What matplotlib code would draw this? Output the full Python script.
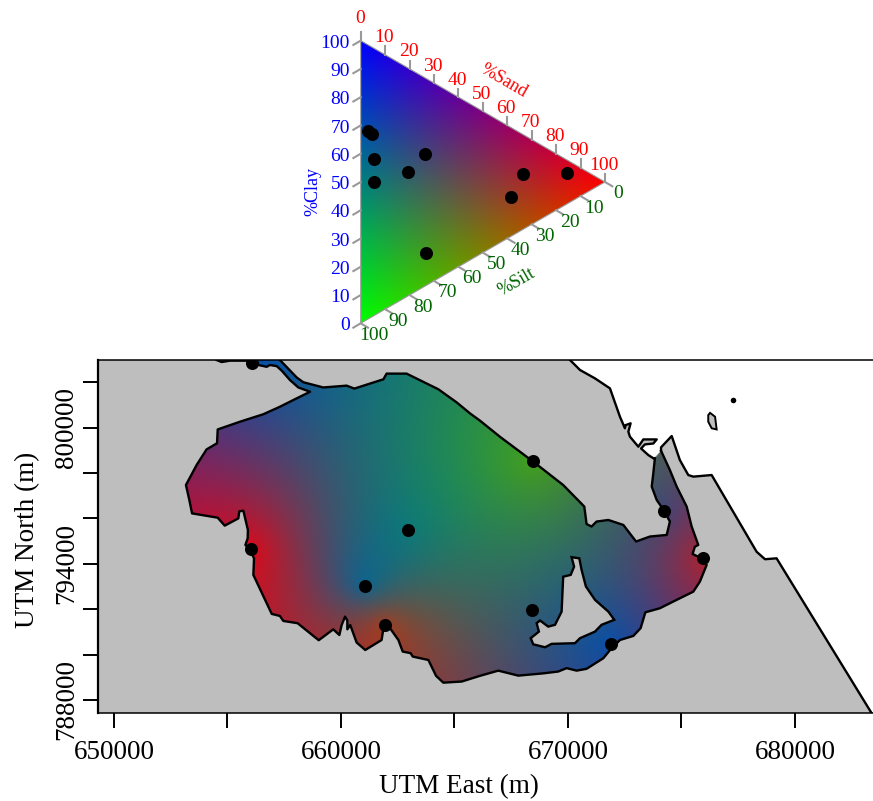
# Soil texture ternary key + interpolated texture colours over the lake
import numpy as np
import matplotlib
matplotlib.use('Agg')
import matplotlib.pyplot as plt
from matplotlib.patches import Polygon

plt.rcParams['font.family'] = ['Liberation Serif', 'DejaVu Serif']

# Samples (UTM km, % fractions)
sample_east = [656.09, 656.04, 662.94, 661.04, 661.92, 668.46, 674.24, 675.96, 668.41, 671.90]
sample_north = [802.83, 794.64, 795.48, 793.04, 791.30, 798.51, 796.33, 794.24, 791.98, 790.47]
sand = [3.1, 84.6, 5.6, 5.6, 61.7, 26.8, 26.3, 66.3, 19.2, 4.6]
silt = [30.4, 4.5, 47.1, 39.2, 24.6, 61.8, 27.0, 13.9, 36.7, 30.8]
clay = [66.5, 10.9, 47.3, 55.2, 13.7, 11.4, 46.7, 19.8, 44.1, 64.6]

# Lake shore, clockwise from the river at the top edge
lake_east = [654.52, 654.74, 655.11, 655.84, 656.36, 656.73, 656.87, 657.17, 657.39, 657.75,
             658.12, 658.34, 658.64, 658.05, 657.31, 656.58, 655.55, 654.57, 654.54, 654.08,
             653.64, 653.17, 653.32, 653.44, 654.57, 654.88, 655.48, 655.52, 655.70, 655.90,
             655.89, 655.79, 655.99, 656.17, 656.14, 656.95, 657.31, 657.46, 658.09, 659.02,
             659.66, 659.93, 660.03, 660.18, 660.28, 660.28, 660.41, 660.54, 660.69, 661.07,
             661.79, 661.86, 662.16, 662.53, 662.72, 663.07, 663.16, 663.85, 664.19, 664.51,
             665.32, 666.12, 666.93, 667.81, 668.91, 669.57, 669.94, 670.38, 670.82, 671.56,
             671.88, 672.29, 672.88, 673.20, 673.41, 674.05, 674.79, 675.52, 675.81, 676.11,
             675.74, 675.49, 675.59, 675.74, 675.45, 675.23, 674.79, 674.49, 674.10,
             673.83, 673.76, 673.69, 673.91, 674.24, 674.49, 674.35, 673.61, 673.00, 672.44,
             671.78, 671.26, 671.04, 670.82, 670.72, 669.79, 668.47, 667.00, 666.12, 665.68,
             665.10, 664.29, 662.89, 662.01, 661.87, 660.59, 660.25, 659.22, 658.34, 658.05,
             657.31]
lake_north = [802.98, 802.89, 802.95, 802.95, 802.76, 802.68, 802.76, 802.71, 802.51, 802.10,
              801.77, 801.69, 801.58, 801.29, 800.92, 800.59, 800.26, 799.92, 799.31, 799.04,
              798.35, 797.47, 796.81, 796.22, 796.03, 795.68, 796.00, 796.31, 796.34, 795.49,
              795.12, 794.83, 794.61, 794.24, 793.51, 791.79, 791.70, 791.48, 791.38, 790.63,
              791.11, 790.86, 791.30, 791.67, 791.50, 791.11, 791.30, 790.94, 790.53, 790.20,
              790.64, 791.08, 791.16, 790.64, 790.13, 790.06, 789.91, 789.76, 789.06, 788.76,
              788.81, 789.06, 789.29, 789.07, 789.17, 789.25, 789.40, 789.29, 789.37, 789.84,
              790.23, 790.64, 790.82, 791.16, 791.86, 792.04, 792.41, 792.77, 793.21, 793.95,
              794.31, 794.43, 794.75, 794.83, 795.64, 796.52, 797.40, 798.13, 798.98,
              798.65, 797.99, 797.40, 796.81, 796.33, 795.86, 795.27, 795.20, 794.98, 795.71,
              795.93, 795.86, 795.64, 795.75, 796.52, 797.47, 798.50, 799.60, 800.31, 800.63,
              801.11, 801.69, 802.38, 802.38, 802.13, 801.72, 801.85, 801.77, 802.00, 802.21,
              802.98]
mouth_index = 88  # lake opens to the sea here, no shore line across it

# Island inside the lake
island_east = [670.16, 670.50, 670.60, 670.79, 671.19, 671.78, 672.04, 671.48, 671.19, 670.53,
               670.31, 669.28, 668.99, 668.47, 668.36, 668.72, 668.62, 668.77, 669.13, 669.43,
               669.72, 669.79, 670.12, 670.27]
island_north = [794.29, 794.24, 793.73, 793.00, 792.41, 791.89, 791.53, 791.31, 791.01, 790.72,
                790.50, 790.47, 790.32, 790.45, 790.72, 791.01, 791.38, 791.50, 791.23, 791.31,
                791.89, 793.43, 793.51, 793.87]

# Sea coast north of the mouth, then the spit
coast_n_east = [670.09, 670.53, 671.19, 671.85, 672.29, 672.51, 672.54, 672.76, 672.66, 672.73,
                673.10, 673.32, 673.91, 673.76, 673.39, 673.22, 673.54, 673.76]
coast_n_north = [802.98, 802.54, 802.17, 801.73, 800.48, 799.97, 800.11, 800.19, 799.82, 799.60,
                 799.16, 799.48, 799.48, 799.30, 799.26, 799.08, 798.79, 798.65]
coast_s_east = [674.10, 674.10, 674.57, 674.93, 675.30, 675.52, 676.33, 678.31, 678.68, 679.19, 683.38]
coast_s_north = [798.98, 799.13, 799.63, 798.57, 797.91, 797.84, 797.91, 794.53, 794.20, 794.24, 787.41]

# Offshore islet
islet_east = [676.18, 676.26, 676.48, 676.55, 676.33, 676.18]
islet_north = [800.55, 800.65, 800.48, 799.92, 799.97, 800.26]
rock_east = [677.28]
rock_north = [801.22]

east_ticks = [650, 655, 660, 665, 670, 675, 680]
east_labelled = [650, 660, 670, 680]
north_ticks = [788, 790, 792, 794, 796, 798, 800, 802]
north_labelled = [788, 794, 800]
tern_ticks = [0, 10, 20, 30, 40, 50, 60, 70, 80, 90, 100]

W, H = 873, 801
fig = plt.figure(figsize=(W / 100, H / 100), dpi=100)

sample_east = np.array(sample_east)
sample_north = np.array(sample_north)
sand = np.array(sand)
silt = np.array(silt)
clay = np.array(clay)
rgb = np.c_[sand, silt, clay] / 100.0

# ---- Ternary key
tax = fig.add_axes([290 / W, 1 - 350 / H, 350 / W, 345 / H])
tax.set_xlim(-28.94, 114.33)
tax.set_ylim(-9.44, 112.6)
tax.axis('off')

gx, gy = np.meshgrid(np.linspace(0, 100, 400), np.linspace(0, 100, 400))
g_clay = gy - gx / 2
g_silt = 100 - gx - g_clay
g_rgb = np.clip(np.dstack([gx, g_silt, g_clay]) / 100.0, 0, 1)
im = tax.imshow(g_rgb, origin='lower', extent=(0, 100, 0, 100), aspect='auto', interpolation='bilinear')
tri = Polygon([[0, 0], [100, 50], [0, 100]], closed=True, transform=tax.transData,
              facecolor='none', edgecolor='#999999', lw=0.8)
tax.add_patch(tri)
im.set_clip_path(tri)

tick_col = '#999999'
tern_fs = 14
for v in tern_ticks:
    # clay, left edge
    tax.plot([0, -3], [v, v - 1.53], color=tick_col, lw=1.5, clip_on=False)
    tax.text(-4.37, v - 0.94, str(v), color='blue', fontsize=tern_fs, ha='right', va='center')
    # sand, upper edge
    tax.plot([v, v], [100 - v / 2, 100 - v / 2 + 2.95], color=tick_col, lw=1.5, clip_on=False)
    up = 7.7 if v == 0 else 6.0
    tax.text(v - 0.4, 100 - v / 2 + up, str(v), color='red', fontsize=tern_fs, ha='center', va='center')
    # silt, lower edge
    tax.plot([100 - v, 103 - v], [(100 - v) / 2, (100 - v) / 2 - 1.53], color=tick_col, lw=1.5, clip_on=False)
    tax.text(100 - v + 5.46, (100 - v) / 2 - 4.25, str(v), color='darkgreen', fontsize=tern_fs, ha='center', va='center')

tax.text(58.66, 85.7, '%Sand', color='red', fontsize=13, rotation=-30, ha='center', va='center')
tax.text(63.8, 14.5, '%Silt', color='darkgreen', fontsize=13, rotation=30, ha='center', va='center')
tax.text(-19.6, 46.5, '%Clay', color='blue', fontsize=13, rotation=90, ha='center', va='center')

tax.plot(sand, clay + sand / 2, 'o', color='black', ms=9.4, mew=0, clip_on=False)

# ---- Map
ax = fig.add_axes([98.3 / W, 1 - 713.3 / H, (880 - 98.3) / W, (713.3 - 360) / H])
xmin, ymin, ymax = 649.31, 787.41, 802.98
ax.set_xlim(xmin * 1000, (xmin + (880 - 98.3) / 22.7) * 1000)
ax.set_ylim(ymin * 1000, ymax * 1000)

lake_east = np.array(lake_east) * 1000
lake_north = np.array(lake_north) * 1000
island_east = np.array(island_east) * 1000
island_north = np.array(island_north) * 1000
coast_n_east = np.array(coast_n_east) * 1000
coast_n_north = np.array(coast_n_north) * 1000
coast_s_east = np.array(coast_s_east) * 1000
coast_s_north = np.array(coast_s_north) * 1000
islet_east = np.array(islet_east) * 1000
islet_north = np.array(islet_north) * 1000
se = sample_east * 1000
sn = sample_north * 1000

land_x = np.r_[xmin * 1000, coast_n_east, coast_s_east, xmin * 1000]
land_y = np.r_[ymax * 1000, coast_n_north, coast_s_north, ymin * 1000]
ax.add_patch(Polygon(np.c_[land_x, land_y], closed=True, facecolor='#BEBEBE', edgecolor='none', zorder=1))

# Texture surface from the samples: linear kernel with a constant term
d = np.hypot(se[:, None] - se[None, :], sn[:, None] - sn[None, :]) / 1000.0
n = len(se)
A = np.zeros((n + 1, n + 1))
A[:n, :n] = d
A[:n, n] = 1
A[n, :n] = 1
b = np.vstack([rgb, np.zeros((1, 3))])
w = np.linalg.solve(A, b)
x0, x1, y0, y1 = 652000.0, 678000.0, 788000.0, 803500.0
qx, qy = np.meshgrid(np.linspace(x0, x1, 780), np.linspace(y0, y1, 465))
dq = np.hypot(qx[..., None] - se, qy[..., None] - sn) / 1000.0
surface = np.clip(dq @ w[:n] + w[n], 0, 1)
lake_im = ax.imshow(surface, origin='lower', extent=(x0, x1, y0, y1), aspect='auto',
                    interpolation='bilinear', zorder=2)
ax.set_xlim(xmin * 1000, (xmin + (880 - 98.3) / 22.7) * 1000)
ax.set_ylim(ymin * 1000, ymax * 1000)
lake_patch = Polygon(np.c_[lake_east, lake_north], closed=True, transform=ax.transData,
                     facecolor='none', edgecolor='none')
ax.add_patch(lake_patch)
lake_im.set_clip_path(lake_patch)

ax.add_patch(Polygon(np.c_[island_east, island_north], closed=True, facecolor='#BEBEBE',
                     edgecolor='black', lw=1.7, zorder=3))
ax.add_patch(Polygon(np.c_[islet_east, islet_north], closed=True, facecolor='#BEBEBE',
                     edgecolor='black', lw=1.4, zorder=3))

line = dict(color='black', lw=1.7, zorder=4, solid_joinstyle='round')
ax.plot(lake_east[:mouth_index + 1], lake_north[:mouth_index + 1], **line)
ax.plot(lake_east[mouth_index + 1:], lake_north[mouth_index + 1:], **line)
ax.plot(coast_n_east, coast_n_north, **line)
ax.plot(coast_s_east, coast_s_north, **line)
ax.plot(np.array(rock_east) * 1000, np.array(rock_north) * 1000, 'o', color='black', ms=4, mew=0, zorder=4)
ax.plot(se, sn, 'o', color='black', ms=9.4, mew=0, zorder=5)

ax.set_xticks([v * 1000 for v in east_ticks])
ax.set_xticklabels([str(v * 1000) if v in east_labelled else '' for v in east_ticks], fontsize=19.5)
ax.set_yticks([v * 1000 for v in north_ticks])
ax.set_yticklabels([str(v * 1000) if v in north_labelled else '' for v in north_ticks],
                   fontsize=19.5, rotation=90, va='center')
ax.tick_params(axis='both', length=11, width=1.4)
ax.tick_params(axis='x', pad=8)
ax.tick_params(axis='y', pad=3)
ax.spines['left'].set_linewidth(1.6)
ax.spines['bottom'].set_linewidth(1.1)
ax.spines['top'].set_linewidth(1.1)
ax.set_xlabel('UTM East (m)', fontsize=19.5, labelpad=7, x=0.461)
ax.set_ylabel('UTM North (m)', fontsize=19.5, labelpad=10, y=0.4905)

fig.savefig('out.png', dpi=100)
